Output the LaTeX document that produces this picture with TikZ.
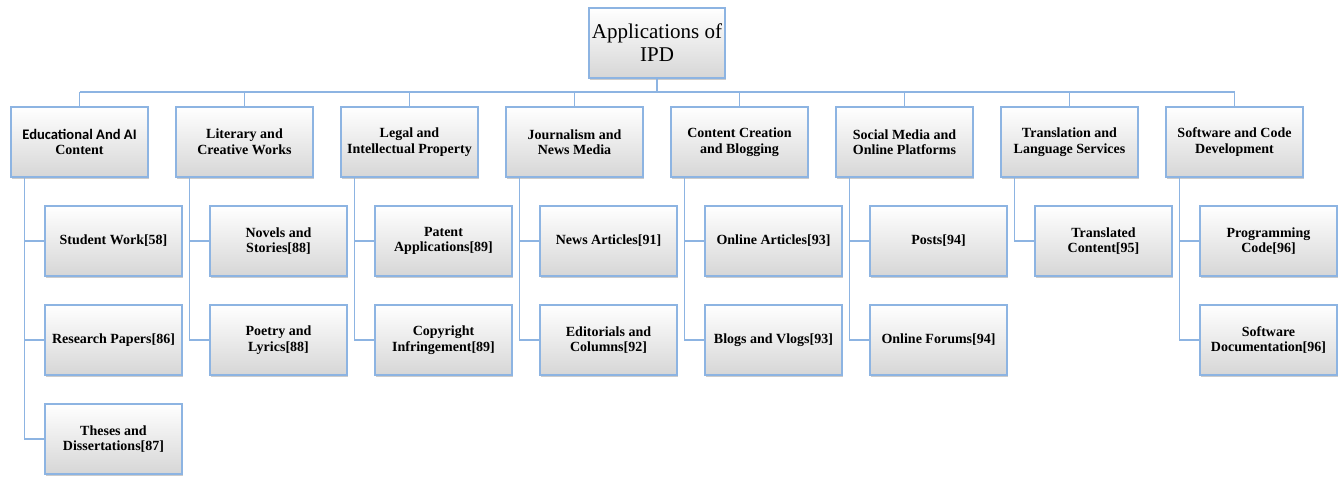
\documentclass[tikz,border=0pt]{standalone}
\usepackage{fontspec}
\setmainfont{Liberation Serif}
\newfontfamily\edufont[Scale=1.04]{Carlito}
\usetikzlibrary{calc}
\usetikzlibrary{positioning}
\usetikzlibrary{shadows}
\definecolor{linkblue}{RGB}{141,180,226}

\begin{document}
\begin{tikzpicture}
    [%
        x=1pt,y=1pt,%
        box/.style={%
            draw=linkblue,%
            line width=1.4pt,%
            top color=white,%
            bottom color=black!16,%
            drop shadow={shadow xshift=1pt,shadow yshift=-2pt,opacity=0.4},%
            minimum width=137pt,%
            minimum height=70pt,%
            align=center,%
            inner sep=1pt%
        },%
        root box/.style={%
            box,%
            minimum width=136pt,%
            font=\fontsize{21}{23}\selectfont%
        },%
        area box/.style={%
            box,%
            font=\fontsize{14}{15.5}\selectfont\bfseries%
        },%
        leaf box/.style={area box},%
        link/.style={%
            draw=linkblue,%
            line width=1.4pt%
        }%
    ]%
%
    \useasboundingbox (0,0) rectangle (1344,477);
    \node[root box] (ipd) at (657,434) {Applications of\\IPD};
    % the bus between the root and the areas
    \coordinate (bus) at (0,385);
    \draw[link] (ipd.south) -- (ipd.south |- bus);
%
    % draw each area, its leaves and the links
    % \area name of the area node
    % \Label text of the area
    % \Leaves texts of the leaves under the area
    \foreach \area/\Label/\Leaves[count=\iarea] in {%
        edu/{\edufont Educational And AI\\Content}/{%
            Student Work[58],Research Papers[86],Theses and\\Dissertations[87]},%
        lit/{Literary and\\Creative Works}/{%
            Novels and\\Stories[88],Poetry and\\Lyrics[88]},%
        legal/{Legal and\\Intellectual Property}/{%
            Patent\\Applications[89],Copyright\\Infringement[89]},%
        news/{Journalism and\\News Media}/{%
            News Articles[91],Editorials and\\Columns[92]},%
        blog/{Content Creation\\and Blogging}/{%
            Online Articles[93],Blogs and Vlogs[93]},%
        social/{Social Media and\\Online Platforms}/{%
            Posts[94],Online Forums[94]},%
        trans/{Translation and\\Language Services}/{%
            Translated\\Content[95]},%
        code/{Software and Code\\Development}/{%
            Programming\\Code[96],Software\\Documentation[96]}%
    }{
% place the area
        \node[area box] (\area) at ({79.5+165*(\iarea-1)},335) {\Label};
        \draw[link] (\area.north) -- (\area.north |- bus);
% leaves of the area
        % \leaf leaf text
        % \ileaf index of the leaf, from the top
        \foreach \leaf[count=\ileaf] in \Leaves {
            \node[leaf box] (\area-\ileaf) at ($(\area)+(34,-99*\ileaf)$) {\leaf};
            \draw[link] ([xshift=14pt]\area.south west) |- (\area-\ileaf.west);
        } % \foreach \leaf
    } % \foreach \area/\Label/\Leaves
%
    \draw[link] (edu.north |- bus) -- (code.north |- bus);
\end{tikzpicture}
\end{document}
